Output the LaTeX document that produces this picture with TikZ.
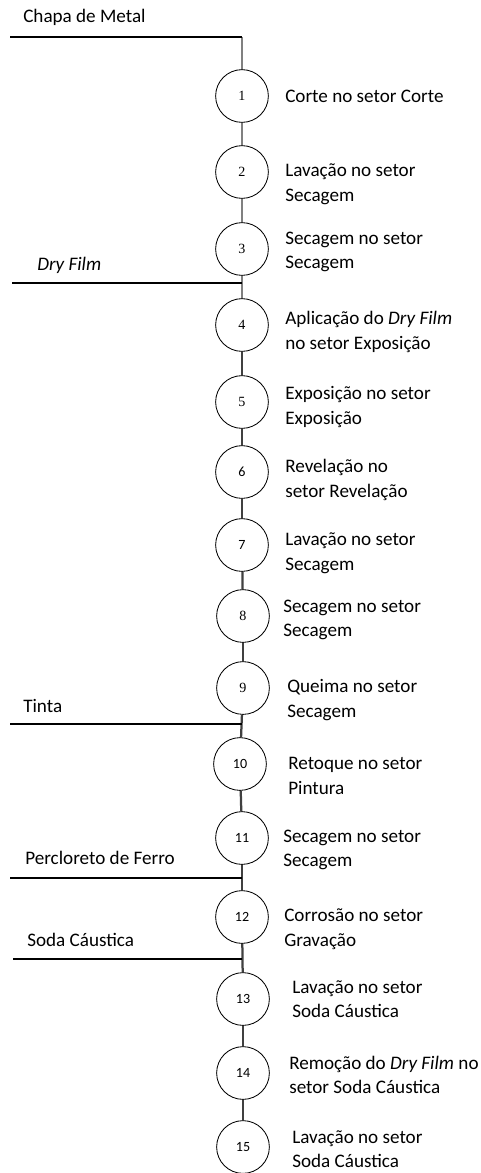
\documentclass[tikz,border=0pt]{standalone}
\usepackage{fontspec}
\setmainfont{Carlito}
\newfontfamily\numfont{Liberation Serif}
\usepackage{tikz}

\tikzset{
  stepcirc/.style={circle, draw, line width=0.6pt, minimum size=37.5pt, inner sep=0pt, font=\fontsize{10}{12}\selectfont},
  steptext/.style={anchor=west, align=left, inner sep=0pt, font=\fontsize{13.6}{17.5}\selectfont},
  feedtext/.style={anchor=west, inner sep=0pt, font=\fontsize{13.6}{17.5}\selectfont},
  feedline/.style={line width=2.1pt, black},
  linkA/.style={line width=2.1pt, gray},
  linkB/.style={line width=1.6pt, black!75}
}

\begin{document}
\begin{tikzpicture}[x=0.025cm, y=-0.025cm]
  \useasboundingbox (0,0) rectangle (481,1173);
  % steps
  \node[stepcirc] (s1) at (242,96) {\numfont 1};
  \node[stepcirc] (s2) at (242,172) {\numfont 2};
  \node[stepcirc] (s3) at (242,249) {\numfont 3};
  \node[stepcirc] (s4) at (242,325) {\numfont 4};
  \node[stepcirc] (s5) at (242,402) {\numfont 5};
  \node[stepcirc] (s6) at (242,472) {6};
  \node[stepcirc] (s7) at (242,545) {7};
  \node[stepcirc] (s8) at (243,616) {\numfont 8};
  \node[stepcirc] (s9) at (243,688) {\numfont 9};
  \node[stepcirc] (s10) at (240,764) {10};
  \node[stepcirc] (s11) at (242,838) {11};
  \node[stepcirc] (s12) at (242,917) {12};
  \node[stepcirc] (s13) at (243,999) {13};
  \node[stepcirc] (s14) at (243,1073) {14};
  \node[stepcirc] (s15) at (243,1147) {15};
  % descriptions
  \node[steptext] (t1) at (285,96) {Corte no setor Corte};
  \node[steptext] (t2) at (285,184) {Lavação no setor\\Secagem};
  \node[steptext] (t3) at (285,252) {Secagem no setor\\Secagem};
  \node[steptext] (t4) at (285,332) {Aplicação do \textit{Dry Film}\\no setor Exposição};
  \node[steptext] (t5) at (285,407) {Exposição no setor\\Exposição};
  \node[steptext] (t6) at (285,480) {Revelação no\\setor Revelação};
  \node[steptext] (t7) at (285,553) {Lavação no setor\\Secagem};
  \node[steptext] (t8) at (283,620) {Secagem no setor\\Secagem};
  \node[steptext] (t9) at (287,700) {Queima no setor\\Secagem};
  \node[steptext] (t10) at (288,776) {Retoque no setor\\Pintura};
  \node[steptext] (t11) at (283,850) {Secagem no setor\\Secagem};
  \node[steptext] (t12) at (284,929) {Corrosão no setor\\Gravação};
  \node[steptext] (t13) at (292,999) {Lavação no setor\\Soda Cáustica};
  \node[steptext] (t14) at (289,1075) {Remoção do \textit{Dry Film} no\\setor Soda Cáustica};
  \node[steptext] (t15) at (292,1149) {Lavação no setor\\Soda Cáustica};
  % inputs
  \node[feedtext] (f1) at (23,17) {Chapa de Metal};
  \node[feedtext] (f2) at (37,265) {\textit{Dry Film}};
  \node[feedtext] (f3) at (23,706) {Tinta};
  \node[feedtext] (f4) at (25,858) {Percloreto de Ferro};
  \node[feedtext] (f5) at (27,940) {Soda Cáustica};
  \coordinate (c1a) at (10,37);
  \coordinate (c1b) at (242,37);
  \coordinate (c2a) at (12,283);
  \coordinate (c2b) at (242,283);
  \coordinate (c3a) at (10,724);
  \coordinate (c3b) at (242,724);
  \coordinate (c4a) at (10,878);
  \coordinate (c4b) at (242,878);
  \coordinate (c5a) at (13,959);
  \coordinate (c5b) at (242,959);
  % flow
  \draw[linkA] (c1b) -- (s1);
  \draw[linkA] (s1) -- (s2);
  \draw[linkA] (s2) -- (s3);
  \draw[linkA] (s3) -- (s4);
  \draw[linkB] (s4) -- (s5);
  \draw[linkB] (s5) -- (s6);
  \draw[linkB] (s6) -- (s7);
  \draw[linkB] (s7) -- (s8);
  \draw[linkB] (s8) -- (s9);
  \draw[linkB] (s9) -- (s10);
  \draw[linkB] (s10) -- (s11);
  \draw[linkB] (s11) -- (s12);
  \draw[linkB] (s12) -- (s13);
  \draw[linkB] (s13) -- (s14);
  \draw[linkB] (s14) -- (s15);
  \draw[feedline] (c1a) -- (c1b);
  \draw[feedline] (c2a) -- (c2b);
  \draw[feedline] (c3a) -- (c3b);
  \draw[feedline] (c4a) -- (c4b);
  \draw[feedline] (c5a) -- (c5b);
\end{tikzpicture}
\end{document}
